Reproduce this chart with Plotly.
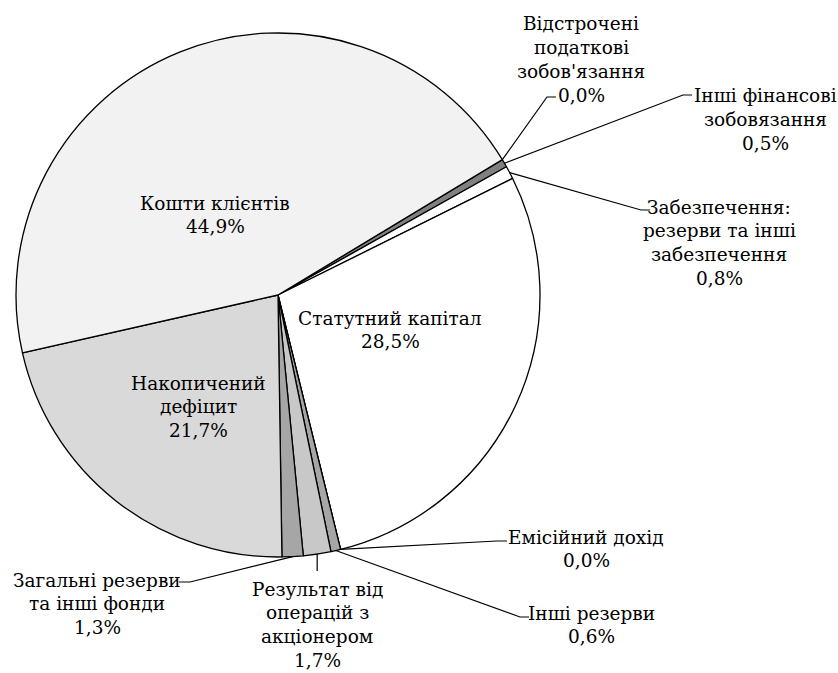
import math
import plotly.graph_objects as go

# ---------------- data ----------------
labels = [
    "Відстрочені податкові зобов'язання",
    "Інші фінансові зобовязання",
    "Забезпечення: резерви та інші забезпечення",
    "Статутний капітал",
    "Емісійний дохід",
    "Інші резерви",
    "Результат від операцій з акціонером",
    "Загальні резерви та інші фонди",
    "Накопичений дефіцит",
    "Кошти клієнтів",
]
label_lines = [
    ["Відстрочені", "податкові", "зобов'язання"],
    ["Інші фінансові", "зобовязання"],
    ["Забезпечення:", "резерви та інші", "забезпечення"],
    ["Статутний капітал"],
    ["Емісійний дохід"],
    ["Інші резерви"],
    ["Результат від", "операцій з", "акціонером"],
    ["Загальні резерви", "та інші фонди"],
    ["Накопичений", "дефіцит"],
    ["Кошти клієнтів"],
]
values = [0.0, 0.5, 0.8, 28.5, 0.0, 0.6, 1.7, 1.3, 21.7, 44.9]
colors = ["#808080", "#808080", "#ffffff", "#ffffff", "#a6a6a6",
          "#a6a6a6", "#c8c8c8", "#a6a6a6", "#d9d9d9", "#f2f2f2"]

# ---------------- layout constants ----------------
W, H = 838, 673
CX, CY, R = 278, 295, 262
ROTATION = 58.9
FONT = "DejaVu Serif"
FS = 18.5
LS = 23.8  # line spacing px

# label block: (center x, first line y, leader elbow, leader end) ; None leader = inside label
label_pos = [
    (581, 24, (547, 97), (556, 97)),
    (765, 96, (683, 95), (692, 95)),
    (719, 207, (641, 210), (650, 210)),
    (390, 318, None, None),
    (586, 537, (497, 541), (507, 541)),
    (591, 613, (520, 617), (529, 617)),
    (317, 589, None, (None, 571)),
    (97, 580, (190, 582), (179, 582)),
    (198, 383, None, None),
    (215, 203, None, None),
]


def fmt(v):
    return f"{v:.1f}".replace(".", ",") + "%"


def px(x, y):
    return x / W, 1 - y / H


fig = go.Figure(go.Pie(
    labels=labels,
    values=values,
    sort=False,
    direction="clockwise",
    rotation=ROTATION,
    marker=dict(colors=colors, line=dict(color="black", width=1.3)),
    textinfo="none",
    hoverinfo="label+percent",
    showlegend=False,
    domain=dict(x=[(CX - R) / W, (CX + R) / W], y=[1 - (CY + R) / H, 1 - (CY - R) / H]),
))

annotations = []
shapes = []
total = sum(values)
cum = 0.0
for i, v in enumerate(values):
    mid = ROTATION + (cum + v / 2) / total * 360
    cum += v
    cx, y0, elbow, end = label_pos[i]
    lines = label_lines[i] + [fmt(v)]
    for k, t in enumerate(lines):
        x, y = px(cx, y0 + k * LS)
        annotations.append(dict(
            x=x, y=y, xref="paper", yref="paper", text=t, showarrow=False,
            xanchor="center", yanchor="middle",
            font=dict(family=FONT, size=FS, color="black"),
        ))
    if end is not None:
        a = math.radians(mid)
        ax, ay = CX + R * math.sin(a), CY - R * math.cos(a)
        pts = [(ax, ay)]
        if elbow is not None:
            pts.append(elbow)
            pts.append(end)
        else:
            pts.append((ax, end[1]))
        path = "M " + " L ".join(f"{px(x, y)[0]:.5f},{px(x, y)[1]:.5f}" for x, y in pts)
        shapes.append(dict(type="path", path=path, xref="paper", yref="paper",
                           line=dict(color="black", width=1.2)))

fig.update_layout(
    width=W, height=H,
    margin=dict(l=0, r=0, t=0, b=0),
    paper_bgcolor="white", plot_bgcolor="white",
    font=dict(family=FONT),
    annotations=annotations, shapes=shapes,
)
fig.write_html(
    "out.html",
    config={"displayModeBar": False},
    post_script="document.body.style.margin='0';document.body.style.padding='0';",
)
